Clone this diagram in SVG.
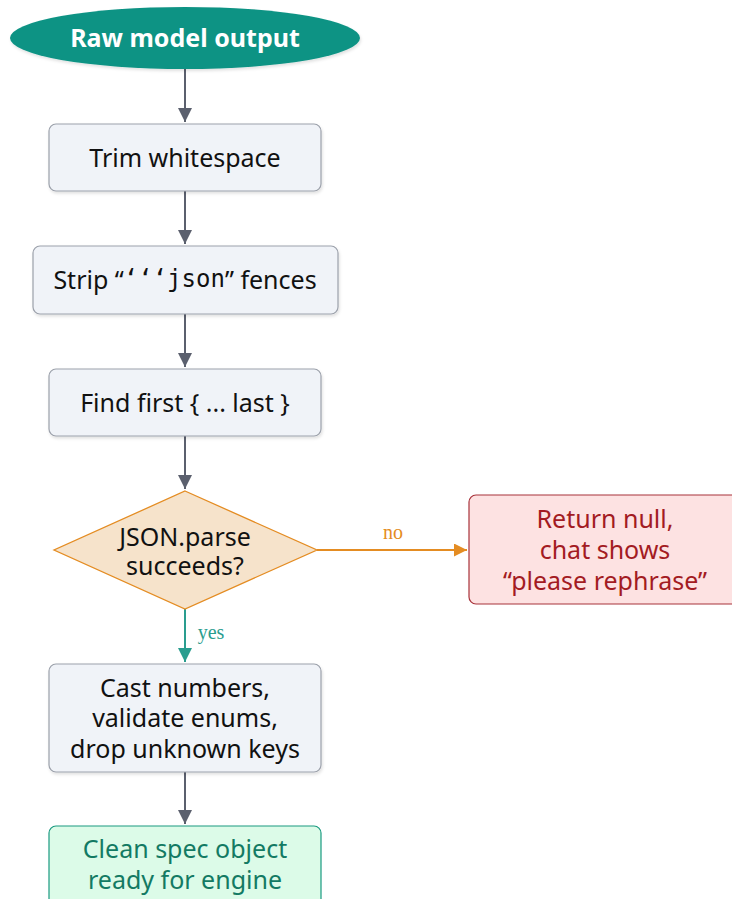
<svg xmlns="http://www.w3.org/2000/svg" width="732" height="899" viewBox="0 0 732 899">
  <defs>
    <marker id="arrGray" viewBox="0 0 10 10" refX="10" refY="5" markerWidth="14" markerHeight="14" orient="auto" markerUnits="userSpaceOnUse">
      <path d="M0,0 L10,5 L0,10 z" fill="#5b606e"/>
    </marker>
    <marker id="arrOrange" viewBox="0 0 10 10" refX="10" refY="5" markerWidth="13" markerHeight="13" orient="auto" markerUnits="userSpaceOnUse">
      <path d="M0,0 L10,5 L0,10 z" fill="#e48c22"/>
    </marker>
    <marker id="arrTeal" viewBox="0 0 10 10" refX="10" refY="5" markerWidth="14" markerHeight="14" orient="auto" markerUnits="userSpaceOnUse">
      <path d="M0,0 L10,5 L0,10 z" fill="#2a9d8f"/>
    </marker>
    <filter id="shadow" x="-10%" y="-10%" width="120%" height="130%">
      <feDropShadow dx="1" dy="2" stdDeviation="1.5" flood-color="#000" flood-opacity="0.12"/>
    </filter>
  </defs>
  <style>
    text { font-family: "Noto Sans", "Open Sans", "Liberation Sans", sans-serif; font-size: 25px; text-anchor: middle; dominant-baseline: central; }
    .step rect { fill: #f0f3f8; stroke: #9ca1ab; stroke-width: 1.2; filter: url(#shadow); }
    .step text { fill: #111111; }
    .mono { font-family: "DejaVu Sans Mono", "Liberation Mono", monospace; font-size: 24px; }
    .edge { fill: none; stroke-width: 2; }
    .lbl { font-family: "Liberation Serif", serif; font-size: 20px; }
  </style>

  <!-- connectors -->
  <g id="connectors">
    <line class="edge" x1="185" y1="69" x2="185" y2="122" stroke="#5b606e" marker-end="url(#arrGray)"/>
    <line class="edge" x1="185" y1="191" x2="185" y2="244" stroke="#5b606e" marker-end="url(#arrGray)"/>
    <line class="edge" x1="185" y1="314" x2="185" y2="367" stroke="#5b606e" marker-end="url(#arrGray)"/>
    <line class="edge" x1="185" y1="436" x2="185" y2="489" stroke="#5b606e" marker-end="url(#arrGray)"/>
    <line class="edge" x1="317" y1="550" x2="467" y2="550" stroke="#e48c22" stroke-width="1.6" marker-end="url(#arrOrange)"/>
    <text class="lbl" x="393" y="532" fill="#e48c22">no</text>
    <line class="edge" x1="185" y1="609" x2="185" y2="662" stroke="#2a9d8f" marker-end="url(#arrTeal)"/>
    <text class="lbl" x="211" y="632" fill="#2a9d8f">yes</text>
    <line class="edge" x1="185" y1="772" x2="185" y2="824" stroke="#5b606e" marker-end="url(#arrGray)"/>
  </g>

  <!-- start terminal -->
  <g id="start">
    <ellipse cx="185" cy="38" rx="175" ry="31" fill="#0e9384" filter="url(#shadow)"/>
    <text x="185" y="37" fill="#ffffff" font-weight="700" font-size="26">Raw model output</text>
  </g>

  <g id="trim" class="step">
    <rect x="49" y="124" width="272" height="67" rx="7"/>
    <text x="185" y="157">Trim whitespace</text>
  </g>

  <g id="strip" class="step">
    <rect x="33" y="246" width="305" height="68" rx="7"/>
    <text x="185" y="279">Strip “<tspan class="mono">‘‘‘json</tspan>” fences</text>
  </g>

  <g id="find" class="step">
    <rect x="49" y="369" width="272" height="67" rx="7"/>
    <text x="185" y="402">Find first { ... last }</text>
  </g>

  <g id="parse">
    <polygon points="185,491 317,550 185,609 54,550" fill="#f6e3cb" stroke="#e48c22" stroke-width="1.3"/>
    <text x="185" y="536" fill="#111111">JSON.parse</text>
    <text x="185" y="565" fill="#111111">succeeds?</text>
  </g>

  <g id="fail">
    <rect x="469" y="495" width="275" height="109" rx="7" fill="#fde2e2" stroke="#a8323a" stroke-width="1.2"/>
    <text x="605" y="518" fill="#a31b22">Return null,</text>
    <text x="605" y="549" fill="#a31b22">chat shows</text>
    <text x="605" y="580" fill="#a31b22">“please rephrase”</text>
  </g>

  <g id="sanitize" class="step">
    <rect x="49" y="664" width="272" height="108" rx="7"/>
    <text x="185" y="687">Cast numbers,</text>
    <text x="185" y="717">validate enums,</text>
    <text x="185" y="748">drop unknown keys</text>
  </g>

  <g id="done">
    <rect x="49" y="826" width="272" height="90" rx="7" fill="#dcfbe8" stroke="#1a9a80" stroke-width="1.2"/>
    <text x="185" y="848" fill="#137a63">Clean spec object</text>
    <text x="185" y="879" fill="#137a63">ready for engine</text>
  </g>
</svg>
